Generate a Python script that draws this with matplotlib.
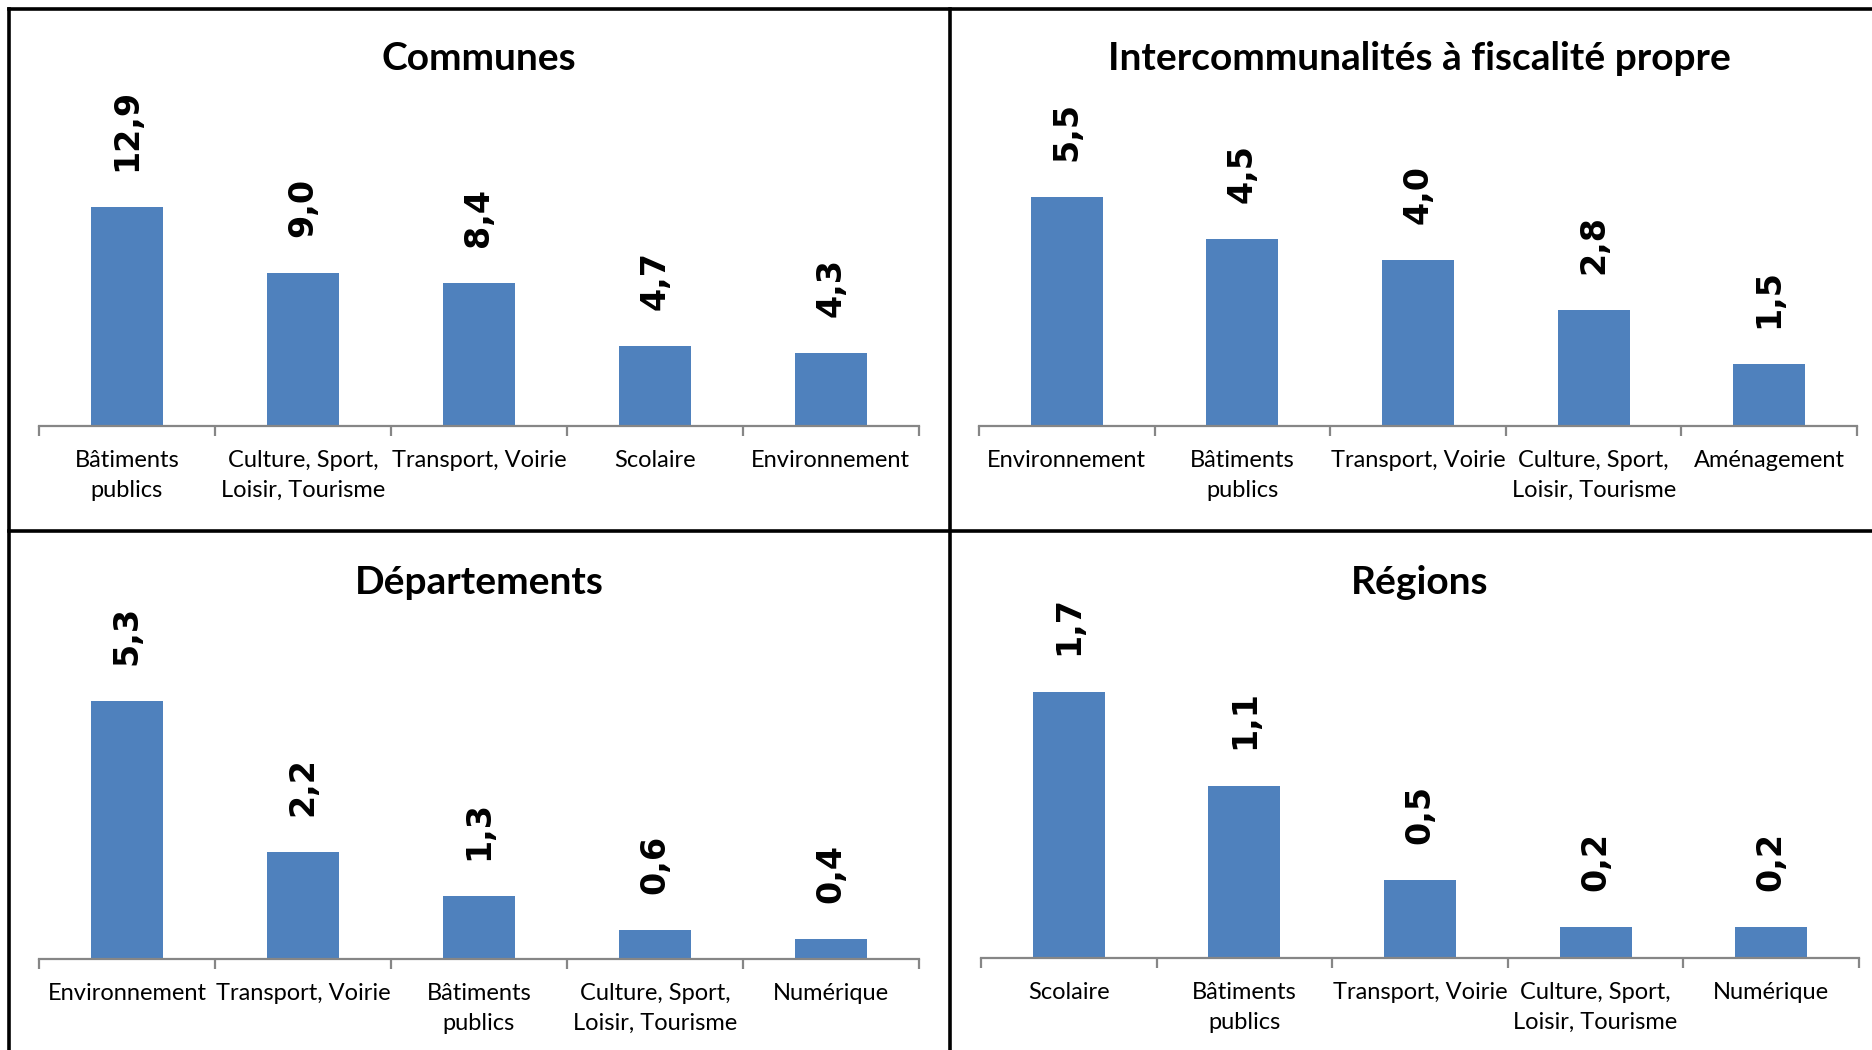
import matplotlib
matplotlib.use("Agg")
import matplotlib.pyplot as plt
from matplotlib.lines import Line2D
import numpy as np

# values (Md€)
communes_cats = ["Bâtiments\npublics", "Culture, Sport,\nLoisir, Tourisme", "Transport, Voirie", "Scolaire", "Environnement"]
communes_vals = [12.9, 9.0, 8.4, 4.7, 4.3]

interco_cats = ["Environnement", "Bâtiments\npublics", "Transport, Voirie", "Culture, Sport,\nLoisir, Tourisme", "Aménagement"]
interco_vals = [5.5, 4.5, 4.0, 2.8, 1.5]

dep_cats = ["Environnement", "Transport, Voirie", "Bâtiments\npublics", "Culture, Sport,\nLoisir, Tourisme", "Numérique"]
dep_vals = [5.3, 2.2, 1.3, 0.6, 0.4]

reg_cats = ["Scolaire", "Bâtiments\npublics", "Transport, Voirie", "Culture, Sport,\nLoisir, Tourisme", "Numérique"]
reg_vals = [1.7, 1.1, 0.5, 0.2, 0.2]

titles = ["Communes", "Intercommunalités à fiscalité propre", "Départements", "Régions"]

BLUE = "#4F81BD"
GREY = "#868686"
FONT = ["Lato", "DejaVu Sans"]

fig = plt.figure(figsize=(18.72, 10.5), dpi=100)

panels = [
    (communes_cats, communes_vals, [0.0208, 0.594, 0.470, 0.321], 19.8, (0.256, 0.944)),
    (interco_cats, interco_vals, [0.523, 0.594, 0.469, 0.321], 8.1, (0.7585, 0.944)),
    (dep_cats, dep_vals, [0.0208, 0.0867, 0.470, 0.321], 6.92, (0.256, 0.445)),
    (reg_cats, reg_vals, [0.524, 0.0876, 0.469, 0.321], 2.15, (0.7585, 0.445)),
]

for (cats, vals, pos, ytop, tpos), title in zip(panels, titles):
    ax = fig.add_axes(pos)
    x = np.arange(len(cats))
    bars = ax.bar(x, vals, width=0.41, color=BLUE, zorder=2)
    for b, v in zip(bars, vals):
        ax.annotate(f"{v:.1f}".replace(".", ","),
                    (b.get_x() + b.get_width() / 2, b.get_height()),
                    xytext=(0, 26), textcoords="offset points",
                    rotation=90, ha="center", va="bottom",
                    fontsize=24, fontweight="bold", family="DejaVu Sans")
    ax.set_xlim(-0.5, len(cats) - 0.5)
    ax.set_ylim(0, ytop)
    for s in ["left", "top", "right"]:
        ax.spines[s].set_visible(False)
    ax.spines["bottom"].set_color(GREY)
    ax.spines["bottom"].set_linewidth(1.6)
    ax.set_yticks([])
    ax.set_xticks(np.arange(-0.5, len(cats)), labels=[""] * (len(cats) + 1))
    ax.set_xticks(x, labels=cats, minor=True)
    ax.tick_params(axis="x", which="major", length=7, width=1.6, color=GREY)
    ax.tick_params(axis="x", which="minor", length=0, pad=17)
    for lbl in ax.get_xticklabels(minor=True):
        lbl.set_family(FONT)
        lbl.set_fontsize(17)
        lbl.set_linespacing(1.55)
    fig.text(tpos[0], tpos[1], title, ha="center", va="center",
             fontsize=28, fontweight="bold", family=FONT)

# black frame lines between the four panels
lw = 2.6
fig.add_artist(Line2D([0.005, 1], [0.991, 0.991], color="black", lw=lw))
fig.add_artist(Line2D([0.005, 1], [0.494, 0.494], color="black", lw=lw))
fig.add_artist(Line2D([0.005, 0.005], [0, 0.991], color="black", lw=lw))
fig.add_artist(Line2D([0.5075, 0.5075], [0, 0.991], color="black", lw=lw))

fig.savefig("out.png", dpi=100)
